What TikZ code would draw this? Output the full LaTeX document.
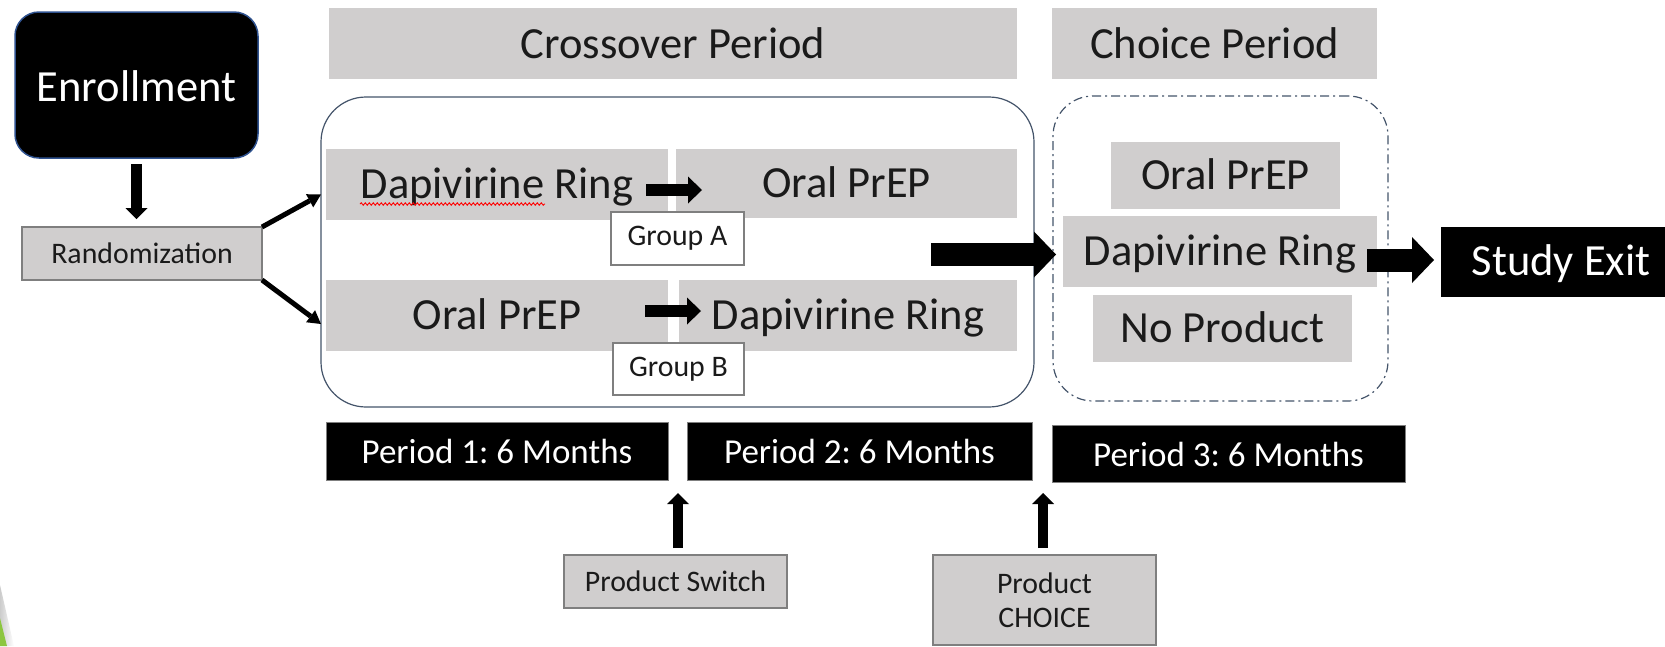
\documentclass[tikz,border=0pt]{standalone}
\usepackage{fontspec}
\setmainfont{Carlito}
\frenchspacing
\usetikzlibrary{arrows.meta,decorations.pathmorphing}
\definecolor{boxgray}{HTML}{D0CECE}
\definecolor{edgegray}{HTML}{7F7F7F}
\definecolor{slate}{HTML}{44546A}
\definecolor{navy}{HTML}{2F528F}
\definecolor{ink}{HTML}{1A1A1A}
\definecolor{leaf}{HTML}{8CC63F}
\begin{document}
\begin{tikzpicture}[x=1pt,y=-1pt,
  base/.style={inner sep=0pt, outer sep=0pt, align=center},
  bigtxt/.style={font=\fontsize{44.5}{50}\selectfont\frenchspacing, text height=27pt, text depth=0pt},
  smalltxt/.style={font=\fontsize{29.8}{34}\selectfont\frenchspacing},
  graybox/.style={base, fill=boxgray, text=ink, bigtxt},
  periodbox/.style={base, fill=black, draw=edgegray, line width=0.8pt, text=white, font=\fontsize{35}{40}\selectfont\frenchspacing, text height=25pt, text depth=0pt},
  outlinebox/.style={base, fill=boxgray, draw=edgegray, line width=1.2pt, text=ink, smalltxt},
  groupbox/.style={base, fill=white, draw=edgegray, line width=1.2pt, text=ink, smalltxt},
  bigarrow/.style={draw=black, line width=23pt, -{Triangle[length=22pt,width=46pt,line width=0pt]}},
  smallarrow/.style={draw=black, line width=12pt, -{Triangle[length=14pt,width=27pt,line width=0pt]}},
  vertarrow/.style={draw=black, line width=10.5pt, -{Triangle[length=11pt,width=22pt,line width=0pt]}},
  thinarrow/.style={draw=black, line width=5pt, -{Triangle[length=13pt,width=15pt,line width=0pt]}},
  squiggle/.style={draw=red, line width=0.9pt, decorate, decoration={snake, amplitude=1.2pt, segment length=4pt}}
]
\useasboundingbox (0,0) rectangle (1665,646);

% slide decoration
\shade[left color=gray!40, right color=white] (0,585) -- (14,646) -- (0,646) -- cycle;
\fill[leaf] (0,618) -- (7,646) -- (0,646) -- cycle;

% headers
\node[graybox, text height=29pt, minimum width=688pt, minimum height=71pt] (crosshead) at (673,43.5) {Crossover Period};
\node[graybox, text height=29pt, minimum width=325pt, minimum height=71pt] (choicehead) at (1214.5,43.5) {Choice Period};

% enrollment and randomization
\node[base, fill=black, draw=navy, line width=1.5pt, rounded corners=24pt, minimum width=243pt, minimum height=146pt, text=white, bigtxt, text height=33pt] (enroll) at (136.5,85) {Enrollment};
\node[outlinebox, minimum width=240pt, minimum height=53pt] (rand) at (142,253.5) {Randomization};

% containers
\node[base, draw=slate, line width=1.2pt, rounded corners=45pt, minimum width=713pt, minimum height=310pt] (crossbox) at (677.5,252) {};
\node[base, draw=slate, line width=1.2pt, dash pattern=on 9pt off 4pt on 2pt off 4pt, rounded corners=40pt, minimum width=335pt, minimum height=305pt] (choicebox) at (1220.5,248.5) {};

% crossover items
\node[graybox, minimum width=342pt, minimum height=71pt] (A1) at (497,184.5) {Dapivirine Ring};
\node[graybox, minimum width=341pt, minimum height=69pt] (A2) at (846.5,183.5) {Oral PrEP};
\node[graybox, minimum width=342pt, minimum height=71pt] (B1) at (497,315.5) {Oral PrEP};
\node[graybox, minimum width=338pt, minimum height=71pt] (B2) at (848,315.5) {Dapivirine Ring};
\node[groupbox, minimum width=133pt, minimum height=53pt] (GA) at (677.5,238.5) {Group A};
\node[groupbox, minimum width=131pt, minimum height=52pt] (GB) at (678.5,369) {Group B};

\coordinate (sq0) at (360,204);
\coordinate (sq1) at (545,204);
\draw[squiggle] (sq0) -- (sq1);

% choice items
\node[graybox, minimum width=229pt, minimum height=67pt] (C1) at (1225.5,175.5) {Oral PrEP};
\node[graybox, minimum width=314pt, minimum height=71pt] (C2) at (1220,251.5) {Dapivirine Ring};
\node[graybox, minimum width=259pt, minimum height=67pt] (C3) at (1222.5,328.5) {No Product};

\node[base, fill=black, minimum width=240pt, minimum height=70pt, text=white, bigtxt] (exit) at (1561,262) {Study Exit};

% periods
\node[periodbox, minimum width=342pt, minimum height=58pt] (P1) at (497,451) {Period 1: 6 Months};
\node[periodbox, minimum width=345pt, minimum height=58pt] (P2) at (859.5,451) {Period 2: 6 Months};
\node[periodbox, minimum width=353pt, minimum height=57pt] (P3) at (1228.5,453.5) {Period 3: 6 Months};

% bottom boxes
\node[outlinebox, minimum width=223pt, minimum height=53pt] (PS) at (675.5,581.5) {Product Switch};
\node[outlinebox, minimum width=223pt, minimum height=90pt] (PC) at (1044.5,600) {Product\\CHOICE};

% arrows
\draw[vertarrow, shorten <=6pt, shorten >=8pt] (enroll.south) -- (enroll.south |- rand.north);
\coordinate (rtop) at ([yshift=-10pt]A1.west -| crossbox.west);
\coordinate (rbot) at ([yshift=-8.5pt]B1.west -| crossbox.west);
\draw[thinarrow] (rand.north east) -- (rtop);
\draw[thinarrow] (rand.south east) -- (rbot);

\coordinate (swA0) at (646,190);
\coordinate (swA1) at (702,190);
\coordinate (swB0) at (645,311);
\coordinate (swB1) at (701,311);
\draw[smallarrow] (swA0) -- (swA1);
\draw[smallarrow] (swB0) -- (swB1);

\coordinate (big0) at (931,254.5);
\coordinate (big1) at (1056,254.5);
\draw[bigarrow] (big0) -- (big1);

\coordinate (ex0) at (1367,260);
\coordinate (ex1) at (1434,260);
\draw[bigarrow] (ex0) -- (ex1);

\draw[vertarrow, shorten <=7pt, shorten >=13pt] ([xshift=2.5pt]PS.north) -- ([xshift=2.5pt]PS.north |- P1.south);
\draw[vertarrow, shorten <=7pt, shorten >=13pt] ([xshift=-1.5pt]PC.north) -- ([xshift=-1.5pt]PC.north |- P2.south);
\end{tikzpicture}
\end{document}
